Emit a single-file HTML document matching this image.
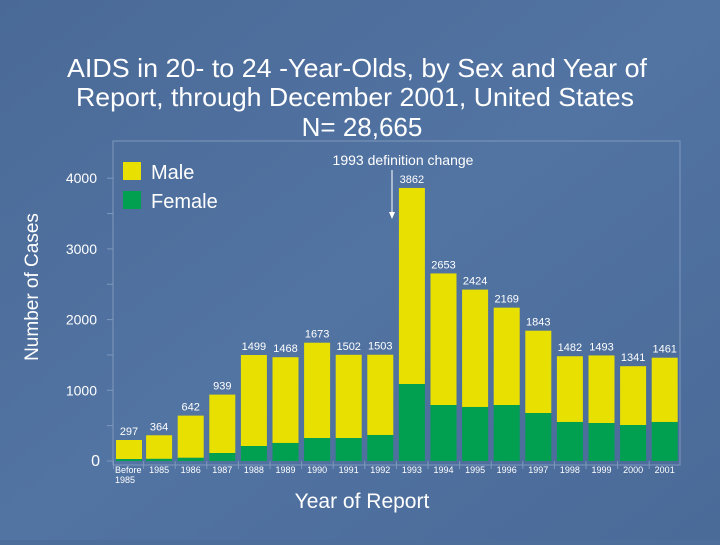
<!DOCTYPE html>
<html><head><meta charset="utf-8"><style>
html,body{margin:0;padding:0}
body{width:720px;height:540px;overflow:hidden;background:#4d6d9b;font-family:"Liberation Sans",sans-serif}
</style></head><body>
<svg id="chart" width="720" height="540" xmlns="http://www.w3.org/2000/svg">
<defs><linearGradient id="bg" x1="0" y1="0" x2="1" y2="1"><stop offset="0" stop-color="#4a6997"/><stop offset="0.5" stop-color="#5274a2"/><stop offset="1" stop-color="#4a6a98"/></linearGradient></defs>
<rect width="720" height="540" fill="url(#bg)"/>
<g fill="#fff" text-anchor="middle" font-size="26">
<text x="357" y="77" textLength="580" lengthAdjust="spacingAndGlyphs">AIDS in 20- to 24 -Year-Olds, by Sex and Year of</text>
<text x="355" y="106" textLength="558" lengthAdjust="spacingAndGlyphs">Report,  through December 2001, United States</text>
<text x="362" y="136">N= 28,665</text>
</g>
<rect x="113" y="141" width="567" height="324" fill="none" stroke="#7f98bd" stroke-width="1"/>
<text x="38" y="287" fill="#fff" font-size="19" text-anchor="middle" transform="rotate(-90 38 287)">Number of Cases</text>
<text x="362" y="508" fill="#fff" font-size="21" text-anchor="middle">Year of Report</text>
<rect x="123" y="162" width="18" height="18" fill="#e8e000"/>
<text x="151" y="179" fill="#fff" font-size="20">Male</text>
<rect x="123" y="191" width="18" height="18" fill="#00a050"/>
<text x="151" y="208" fill="#fff" font-size="20">Female</text>
<text x="403" y="165" fill="#fff" font-size="14" text-anchor="middle">1993 definition change</text>
<line x1="392" y1="170" x2="392" y2="215" stroke="#fff" stroke-width="1"/>
<path d="M389,212 L392,219 L395,212 Z" fill="#fff"/>
<g id="axes"></g>
<g id="bars"></g>
</svg>
<script>
const categories=["Before 1985","1985","1986","1987","1988","1989","1990","1991","1992","1993","1994","1995","1996","1997","1998","1999","2000","2001"];
const totals=[297,364,642,939,1499,1468,1673,1502,1503,3862,2653,2424,2169,1843,1482,1493,1341,1461];
const female=[28,30,45,113,212,255,325,325,368,1089,792,764,792,679,552,537,509,552];
const yTicks=[0,1000,2000,3000,4000];
const NS="http://www.w3.org/2000/svg";
const y0=461, pxPer=0.0707;
function yScale(v){return y0-v*pxPer;}
function xScale(i){return i===0?116:114.5+i*31.6;}
const bw=26;
function mk(tag,attrs,parent){const e=document.createElementNS(NS,tag);for(const k in attrs)e.setAttribute(k,attrs[k]);parent.appendChild(e);return e;}
const axes=document.getElementById('axes'), bars=document.getElementById('bars');
yTicks.forEach(t=>{
  const y=yScale(t);
  const tx=mk('text',{x:t===0?100:97,y:y+5,fill:'#fff','font-size':t===0?16:14,'text-anchor':'end'},axes);
  tx.textContent=t;
  
  
  const ln=mk('line',{x1:107,x2:113,y1:y,y2:y,stroke:'#7f98bd'},axes);
  
  
  if(t<4000){const m=mk('line',{x1:107,x2:113,y1:yScale(t+500),y2:yScale(t+500),stroke:'#7f98bd'},axes);
  
  }
});
categories.forEach((c,i)=>{
  const x=xScale(i);
  const m=totals[i], f=female[i];
  const ry=mk('rect',{x:x,y:yScale(m),width:bw,height:yScale(f)-yScale(m),fill:'#e8e000'},bars);
  
  
  const rg=mk('rect',{x:x,y:yScale(f),width:bw,height:y0-yScale(f),fill:'#00a050'},bars);
  
  
  const v=mk('text',{x:x+bw/2,y:yScale(m)-5,fill:'#fff','font-size':11,'text-anchor':'middle'},bars);
  v.textContent=m;
  
  
  const sep=mk('line',{x1:x-2.5,x2:x-2.5,y1:y0,y2:y0+8,stroke:'#7f98bd'},axes);
  
  
  if(i===0){
    const a=mk('text',{x:x-1,y:y0+12,fill:'#fff','font-size':9},axes);a.textContent='Before';
    
    
    const b=mk('text',{x:x-1,y:y0+22,fill:'#fff','font-size':9},axes);b.textContent='1985';
    
    
  } else {
    const l=mk('text',{x:x+bw/2,y:y0+12,fill:'#fff','font-size':9,'text-anchor':'middle'},axes);l.textContent=c;
    
    
  }
});
</script>
</body></html>
